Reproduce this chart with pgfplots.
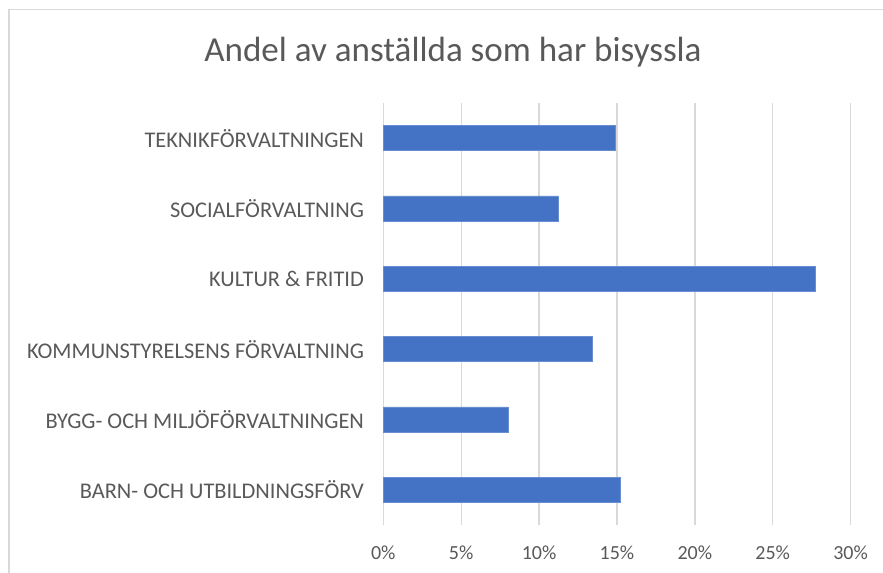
\documentclass[border=0pt]{standalone}
\usepackage{pgfplots}
\pgfplotsset{compat=1.18}
\usepackage{fontspec}
\setmainfont{Carlito}
\definecolor{barblue}{HTML}{4472C4}
\definecolor{txtgray}{HTML}{595959}
\definecolor{gridgray}{HTML}{D9D9D9}
\definecolor{bordergray}{HTML}{D9D9D9}
\begin{document}
\begin{tikzpicture}[x=0.75pt,y=0.75pt]
\path[use as bounding box] (0,0) rectangle (883,573);
\draw[bordergray, line width=1.2pt] (9,0) -- (9,563.5) -- (883,563.5);
\node[txtgray, font=\fontsize{26.3}{30}\selectfont] at (453,521) {Andel av anställda som har bisyssla};
\begin{axis}[
  at={(383.3*0.75pt,48*0.75pt)}, anchor=south west,
  scale only axis,
  width=350.5pt, height=316.5pt,
  xmin=0, xmax=30, ymin=-0.5, ymax=5.5,
  xtick={0,5,...,30},
  xticklabel={\pgfmathprintnumber{\tick}\%},
  /pgf/number format/assume math mode=true,
  ytick={0,1,2,3,4,5},
  yticklabels={BARN- OCH UTBILDNINGSFÖRV, BYGG- OCH MILJÖFÖRVALTNINGEN, KOMMUNSTYRELSENS FÖRVALTNING, KULTUR \& FRITID, SOCIALFÖRVALTNING, TEKNIKFÖRVALTNINGEN},
  axis line style={draw=none},
  major tick length=0pt,
  xmajorgrids,
  grid style={gridgray, line width=1pt},
  xticklabel style={txtgray, font=\fontsize{15}{18}\selectfont, yshift=-12pt},
  yticklabel style={txtgray, font=\fontsize{16.8}{20}\selectfont, xshift=-11pt},
  clip=false,
]
\addplot[xbar, bar width=18.75pt, fill=barblue, draw=barblue!80!white] coordinates {
  (15.2,0) (8.0,1) (13.4,2) (27.7,3) (11.2,4) (14.9,5)
};
\end{axis}
\end{tikzpicture}
\end{document}
